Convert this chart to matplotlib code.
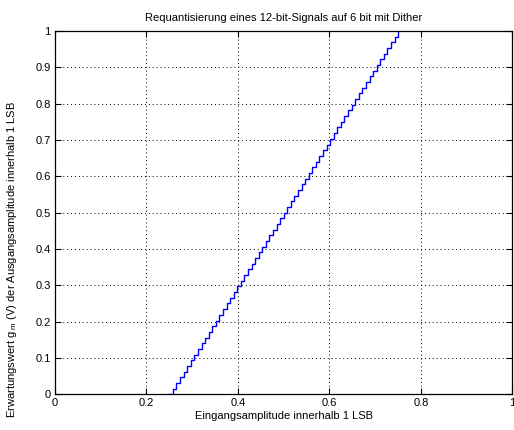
import matplotlib.pyplot as plt

plt.rcParams['font.family'] = ['Liberation Sans', 'DejaVu Sans']
plt.rcParams['mathtext.fontset'] = 'custom'
plt.rcParams['mathtext.rm'] = 'Liberation Sans'
plt.rcParams['mathtext.it'] = 'Liberation Sans'

# Eingangsamplitude (Stufenkanten) und Erwartungswert der Ausgangsamplitude
x_in = [0.25, 0.2578, 0.2656, 0.2734, 0.2813, 0.2891, 0.2969, 0.3047,
        0.3125, 0.3203, 0.3281, 0.3359, 0.3438, 0.3516, 0.3594, 0.3672,
        0.375, 0.3828, 0.3906, 0.3984, 0.4063, 0.4141, 0.4219, 0.4297,
        0.4375, 0.4453, 0.4531, 0.4609, 0.4688, 0.4766, 0.4844, 0.4922,
        0.5, 0.5078, 0.5156, 0.5234, 0.5313, 0.5391, 0.5469, 0.5547,
        0.5625, 0.5703, 0.5781, 0.5859, 0.5938, 0.6016, 0.6094, 0.6172,
        0.625, 0.6328, 0.6406, 0.6484, 0.6563, 0.6641, 0.6719, 0.6797,
        0.6875, 0.6953, 0.7031, 0.7109, 0.7188, 0.7266, 0.7344, 0.7422,
        0.75]
y_out = [0, 0.0156, 0.0313, 0.0469, 0.0625, 0.0781, 0.0938, 0.1094,
         0.125, 0.1406, 0.1563, 0.1719, 0.1875, 0.2031, 0.2188, 0.2344,
         0.25, 0.2656, 0.2813, 0.2969, 0.3125, 0.3281, 0.3438, 0.3594,
         0.375, 0.3906, 0.4063, 0.4219, 0.4375, 0.4531, 0.4688, 0.4844,
         0.5, 0.5156, 0.5313, 0.5469, 0.5625, 0.5781, 0.5938, 0.6094,
         0.625, 0.6406, 0.6563, 0.6719, 0.6875, 0.7031, 0.7188, 0.7344,
         0.75, 0.7656, 0.7813, 0.7969, 0.8125, 0.8281, 0.8438, 0.8594,
         0.875, 0.8906, 0.9063, 0.9219, 0.9375, 0.9531, 0.9688, 0.9844,
         1.0]

xticks = [0, 0.2, 0.4, 0.6, 0.8, 1]
xlabels = ['0', '0.2', '0.4', '0.6', '0.8', '1']
yticks = [0, 0.1, 0.2, 0.3, 0.4, 0.5, 0.6, 0.7, 0.8, 0.9, 1]
ylabels = ['0', '0.1', '0.2', '0.3', '0.4', '0.5', '0.6', '0.7', '0.8', '0.9', '1']

fig = plt.figure(figsize=(5.14, 4.3), dpi=100)
ax = fig.add_axes([0.107, 0.083, 0.890, 0.845])

ax.step(x_in, y_out, where='post', color='#0000ff', linewidth=1.0)

ax.set_xlim(0, 1)
ax.set_ylim(0, 1)
ax.set_xticks(xticks)
ax.set_xticklabels(xlabels)
ax.set_yticks(yticks)
ax.set_yticklabels(ylabels)
ax.tick_params(direction='in', top=True, right=True, labelsize=8, length=4, width=0.8, pad=3)
ax.grid(True, color='black', linestyle=(0, (1, 3)), linewidth=0.7)
for s in ax.spines.values():
    s.set_linewidth(0.9)

ax.set_title('Requantisierung eines 12-bit-Signals auf 6 bit mit Dither', fontsize=8, pad=7)
ax.set_xlabel('Eingangsamplitude innerhalb 1 LSB', fontsize=8, labelpad=2)
ax.set_ylabel(r'Erwartungswert g$_{\ m}$ (V) der Ausgangsamplitude innerhalb 1 LSB', fontsize=8)
ax.yaxis.set_label_coords(-0.078, 0.37)

fig.savefig('out.png', dpi=100)
